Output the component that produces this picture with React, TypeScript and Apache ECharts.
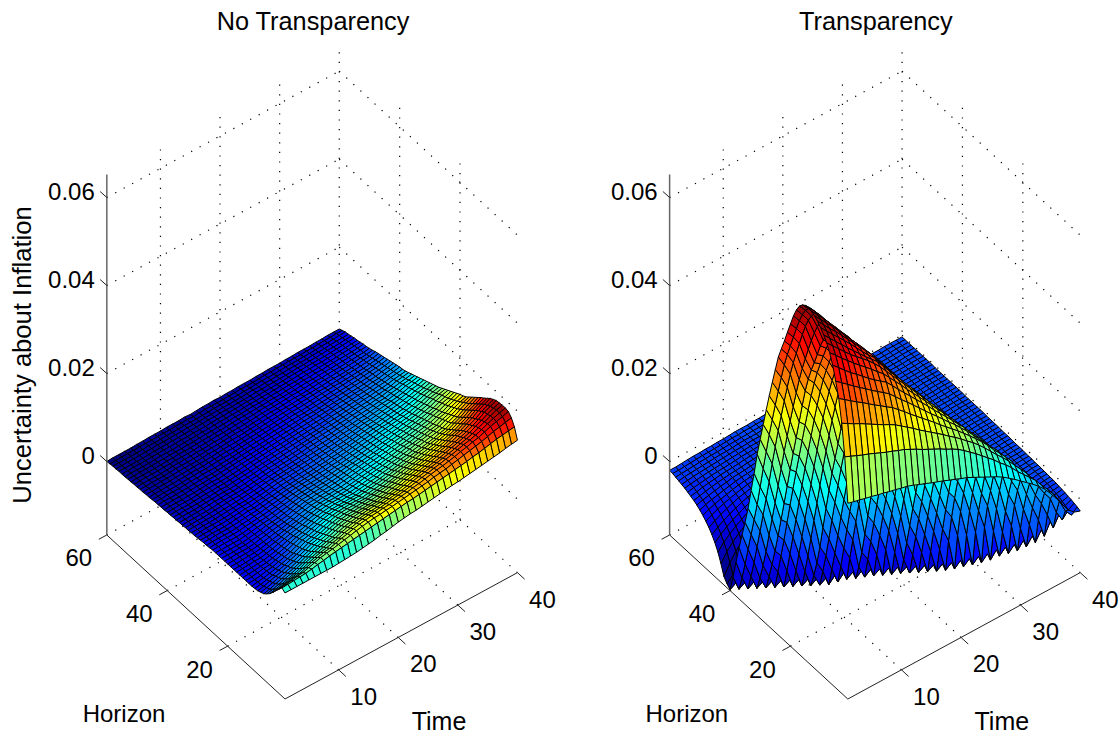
import React, { useEffect, useRef } from "react";
import * as echarts from "echarts";

const chartTitles = ["No Transparency", "Transparency"];
const timeTicks = [10, 20, 30, 40];
const horizonTicks = [20, 40, 60];
const valueTicks = [0, 0.02, 0.04, 0.06];
const valueTickLabels = ["0", "0.02", "0.04", "0.06"];
const valueAxisTitle = "Uncertainty about Inflation";
const horizonAxisTitle = "Horizon";
const timeAxisTitle = "Time";

// Surface heights in units of 0.0001; one row per Time (1..40), ten Horizon values per group (1..60).
const noTransparency = [
[74,79,70,60,50,41,34,28,25,22, 21,20,20,20,20,20,20,20,20,20, 20,20,20,20,20,19,18,18,17,16, 15,15,14,14,13,13,12,12,11,11, 10,10,9,9,8,7,7,6,6,5, 5,4,4,3,3,3,2,2,1,0],
[74,80,72,62,52,44,37,31,28,25, 23,22,21,21,21,21,21,20,20,20, 20,20,20,20,20,19,19,18,17,17, 16,15,15,14,14,13,13,12,12,11, 11,10,10,9,8,8,7,7,6,6, 5,5,4,4,3,3,2,2,1,1],
[74,81,74,65,56,48,41,36,32,29, 26,24,23,23,22,22,22,21,21,21, 21,20,20,20,20,20,19,19,18,17, 17,16,15,15,14,14,13,13,12,12, 11,11,10,10,9,8,8,7,7,6, 6,5,5,4,4,3,3,2,2,1],
[74,82,76,68,60,52,46,40,36,33, 29,27,26,25,24,23,23,22,22,21, 21,21,20,20,20,20,19,19,18,18, 17,16,16,15,15,14,13,13,12,12, 11,11,10,10,9,9,8,8,7,6, 6,5,5,4,4,3,3,2,2,1],
[74,83,78,70,63,56,50,45,40,36, 33,30,28,26,25,24,23,23,22,22, 21,21,20,20,20,20,19,19,18,18, 17,17,16,16,15,15,14,13,13,12, 12,11,11,10,9,9,8,8,7,6, 6,5,5,4,4,3,3,2,2,1],
[74,85,82,75,68,61,55,49,44,41, 37,34,32,30,28,27,26,25,24,24, 23,23,22,22,21,21,20,20,19,19, 18,18,17,17,16,16,15,14,14,13, 12,12,11,11,10,10,9,9,8,7, 7,6,6,5,5,4,4,3,3,2],
[74,88,86,80,73,67,60,54,49,45, 42,38,36,34,32,30,29,28,27,26, 26,25,24,24,23,23,22,21,21,20, 19,19,18,18,17,17,16,15,15,14, 13,13,12,12,11,10,10,9,9,8, 7,7,6,6,5,5,4,4,3,2],
[74,90,90,84,78,72,66,60,55,51, 47,43,40,38,36,34,33,31,30,29, 28,27,26,26,25,24,23,23,22,21, 21,20,19,19,18,17,17,16,15,15, 14,13,13,12,11,11,10,10,9,8, 8,7,7,6,6,5,5,4,3,3],
[74,93,93,88,82,76,71,65,60,56, 52,49,46,44,41,39,37,35,33,32, 31,30,29,28,27,26,25,24,24,23, 22,21,20,20,19,18,17,17,16,15, 15,14,13,13,12,11,11,10,9,9, 8,8,7,6,6,5,5,4,4,3],
[75,95,95,90,85,80,75,70,66,62, 58,55,52,49,46,43,41,39,36,34, 33,32,30,29,28,27,26,25,24,23, 22,21,21,20,19,18,17,16,16,15, 14,14,13,13,12,11,11,10,10,9, 8,8,7,7,6,6,5,5,4,3],
[76,97,98,94,89,84,79,74,70,66, 62,58,55,52,49,46,44,42,39,37, 35,34,32,31,30,29,28,27,26,25, 24,23,22,21,20,19,18,18,17,16, 15,15,14,13,13,12,11,11,10,10, 9,8,8,7,7,6,6,5,4,4],
[77,99,101,98,92,87,82,78,74,70, 66,62,59,56,53,50,47,45,42,40, 38,36,35,34,33,31,30,29,28,26, 25,24,23,22,21,20,20,19,18,17, 17,16,15,14,14,13,12,12,11,10, 10,9,8,8,7,7,6,5,5,4],
[78,101,104,101,97,92,87,83,79,75, 71,67,64,60,57,54,51,48,46,44, 42,40,38,36,35,33,32,31,29,28, 27,26,25,24,23,22,21,20,19,18, 18,17,16,15,15,14,13,12,12,11, 10,10,9,8,8,7,7,6,5,4],
[80,103,107,105,100,96,91,87,83,79, 75,71,68,64,61,58,55,52,49,47, 45,43,41,39,37,36,34,33,31,30, 29,28,27,25,24,23,22,21,20,20, 19,18,17,16,15,15,14,13,12,12, 11,10,10,9,8,8,7,6,6,5],
[82,105,110,108,104,99,94,90,86,82, 78,75,71,68,64,61,58,55,52,50, 48,46,44,42,40,38,36,35,33,32, 31,30,28,27,26,25,24,23,22,21, 20,19,18,17,16,15,15,14,13,12, 12,11,10,9,8,8,7,6,5,4],
[84,107,112,110,106,101,96,92,88,84, 80,77,73,70,66,63,60,57,54,51, 49,47,45,43,41,39,38,36,34,33, 32,31,29,28,27,26,25,24,23,22, 21,20,19,18,17,16,15,15,14,13, 12,11,11,10,9,9,8,7,6,5],
[87,109,114,112,108,103,98,94,89,85, 81,78,74,71,67,64,61,58,55,53, 50,48,46,44,42,41,39,37,35,34, 33,32,30,29,28,27,26,25,24,23, 22,21,20,19,18,17,16,15,15,14, 13,12,11,11,10,9,8,7,7,6],
[89,111,115,113,109,104,100,95,90,86, 82,78,75,71,67,64,61,58,56,53, 51,49,47,45,43,41,40,38,36,35, 34,33,31,30,29,28,27,26,25,24, 23,22,21,20,19,18,17,16,15,14, 14,13,12,11,10,10,9,8,7,6],
[92,113,117,115,110,105,101,96,91,87, 83,79,75,72,68,65,62,59,57,54, 52,50,48,46,44,42,41,39,37,36, 35,34,32,31,30,29,28,27,26,25, 24,23,22,21,20,19,18,17,16,15, 15,14,13,12,11,10,9,8,7,7],
[95,115,118,116,112,107,102,97,92,88, 84,79,75,72,68,65,62,60,57,55, 53,51,49,47,45,43,42,40,38,37, 36,35,33,32,31,30,29,28,27,26, 25,24,23,22,21,20,19,18,17,16, 15,14,13,12,11,10,9,8,7,6],
[97,117,120,118,114,109,104,99,94,90, 86,81,77,74,70,67,64,62,59,57, 55,53,51,49,47,45,43,42,40,38, 37,36,35,33,32,31,30,29,28,27, 26,25,24,23,22,21,20,19,18,17, 16,15,14,13,12,11,10,9,8,7],
[99,119,122,120,116,111,106,101,96,92, 88,83,79,76,72,69,66,64,61,59, 57,55,53,51,49,47,45,43,41,40, 39,37,36,35,34,33,31,30,29,28, 27,26,25,24,23,22,21,20,19,18, 17,16,15,14,13,11,10,9,8,7],
[100,120,124,122,118,113,108,103,99,95, 90,85,81,78,74,71,68,66,63,61, 59,57,55,53,50,48,46,45,43,41, 40,38,37,36,35,34,32,31,30,29, 28,27,26,25,24,23,22,21,20,19, 18,16,15,14,13,12,11,10,9,8],
[102,122,126,125,121,116,111,106,101,97, 93,88,84,80,76,73,70,68,65,63, 61,59,57,54,52,50,48,46,44,43, 41,40,38,37,36,35,34,32,31,30, 29,28,27,26,25,24,23,22,20,19, 18,17,16,15,14,13,12,10,9,8],
[104,124,128,127,124,120,115,110,105,100, 96,91,87,83,79,76,73,70,67,65, 63,61,58,56,54,52,50,48,46,45, 43,41,40,38,37,36,35,33,32,31, 30,29,28,27,26,25,24,22,21,20, 19,18,17,15,14,13,12,11,9,8],
[106,126,130,130,127,123,118,113,108,103, 98,94,90,86,81,78,75,72,69,67, 65,63,60,58,56,54,52,50,48,46, 44,43,41,40,38,37,36,34,33,32, 31,30,29,27,26,25,24,23,22,21, 20,18,17,16,15,14,13,12,10,9],
[108,128,133,133,130,126,121,116,111,106, 101,97,92,88,84,81,78,75,72,69, 67,65,62,60,58,56,54,52,50,48, 46,44,43,41,40,38,37,36,34,33, 32,31,29,28,27,26,25,24,23,22, 20,19,18,17,15,14,13,12,11,9],
[110,130,135,136,133,129,124,119,114,109, 104,99,95,91,87,84,80,77,74,72, 69,67,64,62,60,58,56,54,52,50, 48,46,44,43,41,40,38,37,36,34, 33,32,30,29,28,27,26,25,23,22, 21,20,19,17,16,15,14,12,11,10],
[112,132,137,138,136,132,127,122,117,112, 107,102,98,94,90,86,83,80,77,74, 72,69,67,64,62,60,58,56,54,52, 50,48,46,44,43,41,40,38,37,36, 34,33,31,30,29,28,27,25,24,23, 22,21,19,18,17,15,14,13,12,10],
[113,134,140,141,139,135,130,126,120,115, 110,105,101,97,92,89,86,83,80,77, 74,72,69,66,64,62,60,58,56,54, 52,50,48,46,45,43,41,40,38,37, 36,34,33,31,30,29,28,26,25,24, 23,22,20,19,18,16,15,14,12,10],
[115,136,143,144,142,138,134,129,124,119, 114,109,104,100,95,92,89,85,82,79, 77,74,71,69,66,64,62,60,57,55, 53,51,49,47,46,44,43,41,40,38, 37,35,34,32,31,30,28,27,26,25, 23,22,21,20,18,17,15,14,13,11],
[117,138,146,148,146,142,138,133,128,122, 117,112,107,103,98,95,92,88,85,82, 79,76,74,71,68,66,64,61,59,57, 55,53,51,49,47,46,44,42,41,39, 38,36,35,33,32,31,29,28,27,25, 24,23,21,20,19,17,16,14,13,11],
[119,141,149,151,150,146,142,137,132,127, 121,116,111,106,101,98,95,91,88,85, 82,79,76,73,71,68,66,63,61,59, 57,55,53,51,49,47,45,44,42,41, 39,37,36,34,33,31,30,29,27,26, 25,23,22,21,19,18,16,15,13,12],
[121,143,152,155,153,150,146,141,137,132, 126,120,115,110,105,101,98,94,91,88, 85,82,79,76,73,70,68,65,63,61, 59,57,55,53,51,49,47,45,43,42, 40,38,37,35,34,32,31,29,28,27, 25,24,22,21,20,18,17,15,14,12],
[123,146,155,158,157,154,150,146,141,136, 130,124,119,113,108,104,101,97,94,91, 88,85,82,79,76,73,70,68,65,63, 61,59,57,54,52,50,48,47,45,43, 41,39,38,36,35,33,32,30,29,27, 26,25,23,22,20,19,17,16,14,12],
[125,149,159,163,162,160,157,152,148,143, 137,131,126,120,114,110,107,103,100,96, 93,90,86,83,80,77,74,71,69,66, 64,62,59,57,55,53,50,48,47,45, 43,41,39,38,36,34,33,31,30,28, 27,26,24,23,21,20,18,17,15,13],
[127,152,163,168,168,166,163,159,154,150, 144,138,132,126,120,116,112,108,104,100, 97,94,90,87,84,81,78,75,72,70, 67,65,62,60,57,55,52,50,48,46, 44,42,41,39,37,35,34,32,31,29, 28,26,25,23,22,20,19,17,16,13],
[130,154,166,172,173,172,170,168,163,159, 153,147,141,135,129,124,119,115,111,107, 103,100,96,93,90,87,83,80,77,74, 71,69,66,64,61,58,56,53,51,49, 47,45,43,41,39,37,35,34,32,30, 29,27,26,24,23,21,20,18,16,14],
[132,156,169,176,178,178,176,174,170,166, 160,154,148,142,136,131,126,121,116,112, 108,104,101,98,94,90,87,84,80,77, 74,71,69,66,63,60,58,55,53,51, 49,47,45,43,41,39,37,35,33,31, 30,28,27,25,24,22,20,19,17,14],
[134,158,172,180,182,182,181,180,176,172, 166,160,155,149,143,137,131,125,121,118, 114,110,106,102,98,94,90,87,84,81, 78,75,72,69,66,63,60,57,55,54, 52,50,48,46,44,42,40,38,35,33, 31,30,28,26,25,23,21,20,17,14],
];

const transparency = [
[278,377,447,497,530,560,582,598,610,620, 628,634,638,640,639,634,625,610,590,565, 540,514,490,465,430,395,358,320,280,240, 200,150,105,58,20,-15,-50,-90,-130,-165, -158,-148,-125,-105,-90,-78,-68,-60,-53,-47, -42,-38,-35,-32,-29,-27,-25,-23,-21,-20],
[274,371,439,487,519,547,569,584,595,605, 613,619,623,625,624,618,608,592,572,548, 522,496,470,440,405,368,330,290,250,205, 160,112,66,25,-15,-55,-95,-132,-165,-157, -145,-124,-105,-90,-78,-68,-60,-53,-47,-42, -38,-35,-32,-29,-27,-25,-23,-22,-21,-20],
[271,365,431,477,508,534,555,570,580,590, 597,603,607,608,606,600,588,572,552,527, 500,472,444,412,376,338,298,258,215,170, 123,78,35,-8,-50,-92,-130,-165,-157,-145, -124,-105,-90,-78,-68,-60,-53,-47,-42,-38, -35,-32,-29,-27,-25,-23,-22,-21,-20,-19],
[267,359,424,467,497,521,542,556,566,576, 583,588,590,589,584,573,556,536,512,486, 458,430,398,362,324,285,245,203,158,113, 68,25,-18,-62,-100,-135,-165,-157,-145,-124, -105,-90,-78,-68,-60,-53,-47,-42,-38,-35, -32,-29,-27,-25,-23,-22,-21,-20,-19,-18],
[264,354,416,458,486,510,529,542,551,561, 567,571,573,569,558,540,518,499,473,448, 425,398,365,325,282,240,198,155,110,65, 22,-21,-62,-99,-133,-165,-157,-145,-124,-105, -90,-78,-68,-60,-53,-47,-42,-38,-35,-32, -29,-27,-25,-23,-22,-21,-20,-19,-18,-17],
[260,348,408,448,476,498,517,530,537,546, 551,554,555,551,541,526,507,486,462,438, 412,382,347,308,268,226,184,142,98,54, 8,-38,-80,-123,-165,-157,-145,-124,-104,-88, -76,-66,-58,-51,-46,-41,-37,-34,-31,-29, -27,-25,-23,-22,-21,-20,-19,-18,-17,-17],
[257,342,400,438,465,486,505,518,523,530, 535,537,538,534,522,506,486,465,441,416, 388,355,318,278,236,193,150,105,60,14, -32,-76,-122,-165,-157,-145,-124,-104,-88,-75, -65,-57,-50,-45,-41,-37,-34,-31,-28,-26, -24,-23,-22,-21,-20,-19,-18,-17,-17,-16],
[253,336,392,429,455,475,493,506,509,514, 519,521,519,512,498,480,459,437,413,386, 355,320,282,240,196,152,106,60,14,-32, -78,-122,-165,-157,-145,-124,-104,-88,-75,-64, -56,-50,-45,-41,-37,-34,-31,-28,-26,-24, -23,-22,-21,-20,-19,-18,-17,-17,-16,-16],
[250,331,385,419,445,465,480,492,496,499, 503,504,499,487,470,450,428,405,380,348, 312,275,235,193,148,103,56,10,-37,-83, -125,-165,-157,-145,-124,-104,-88,-75,-64,-56, -50,-45,-41,-37,-34,-31,-28,-26,-24,-23, -22,-21,-20,-19,-18,-17,-17,-16,-16,-15],
[246,325,377,410,435,455,468,477,483,486, 487,486,477,461,438,412,387,363,338,300, 256,215,175,135,90,42,-8,-58,-100,-135, -165,-157,-145,-124,-104,-88,-75,-64,-56,-50, -45,-40,-36,-33,-30,-27,-25,-23,-22,-21, -20,-19,-18,-17,-17,-16,-16,-15,-15,-15],
[243,320,367,398,421,440,452,460,465,466, 468,462,450,433,411,387,362,336,305,268, 226,185,144,100,55,8,-40,-85,-127,-165, -157,-145,-124,-104,-88,-75,-64,-55,-49,-44, -39,-35,-32,-29,-27,-25,-23,-22,-21,-20, -19,-18,-17,-17,-16,-16,-15,-15,-14,-14],
[238,313,357,386,407,424,436,443,447,447, 449,441,427,407,384,360,334,304,268,228, 188,147,105,60,14,-34,-80,-124,-165,-157, -145,-124,-104,-88,-75,-64,-55,-47,-42,-38, -34,-31,-28,-26,-24,-22,-21,-20,-19,-18, -17,-17,-16,-16,-15,-15,-14,-14,-14,-13],
[232,306,347,373,394,409,420,426,429,428, 430,421,405,385,362,337,310,276,238,198, 158,116,72,26,-22,-70,-118,-160,-152,-140, -120,-102,-88,-75,-64,-55,-47,-42,-38,-34, -31,-28,-26,-24,-22,-21,-20,-19,-18,-17, -17,-16,-16,-15,-15,-14,-14,-14,-13,-13],
[227,298,336,361,380,394,403,409,412,410, 411,399,382,361,338,312,283,248,208,168, 128,86,42,-4,-52,-100,-155,-147,-135,-117, -100,-88,-77,-67,-59,-52,-46,-41,-37,-34, -31,-28,-26,-24,-22,-21,-20,-19,-18,-17, -16,-16,-15,-15,-14,-14,-14,-13,-13,-13],
[221,291,326,349,366,379,387,392,394,392, 391,374,353,330,304,275,240,197,152,108, 62,14,-34,-82,-121,-154,-146,-134,-116,-99, -86,-74,-64,-56,-49,-43,-38,-34,-31,-28, -26,-24,-22,-21,-20,-19,-18,-17,-16,-16, -15,-15,-14,-14,-14,-13,-13,-13,-12,-12],
[216,284,316,337,352,364,371,375,377,375, 372,356,335,311,284,252,214,172,128,84, 38,-10,-58,-105,-152,-144,-132,-114,-97,-84, -72,-62,-54,-47,-42,-38,-34,-31,-28,-26, -24,-22,-21,-20,-19,-18,-17,-16,-16,-15, -15,-14,-14,-13,-13,-13,-12,-12,-12,-12],
[211,277,306,325,338,349,355,358,359,355, 348,331,310,285,257,222,182,140,95,50, 4,-45,-95,-150,-142,-130,-112,-95,-82,-70, -60,-52,-45,-40,-36,-33,-30,-28,-26,-24, -22,-21,-20,-19,-18,-17,-16,-16,-15,-15, -14,-14,-13,-13,-13,-12,-12,-12,-11,-11],
[205,269,296,312,325,333,338,341,341,334, 320,302,280,254,222,184,143,100,55,10, -35,-85,-150,-142,-130,-112,-95,-82,-70,-60, -52,-45,-40,-36,-33,-30,-28,-26,-24,-22, -21,-20,-19,-18,-17,-16,-16,-15,-15,-14, -14,-13,-13,-13,-12,-12,-12,-11,-11,-11],
[200,262,285,300,311,318,322,324,321,308, 292,272,247,215,176,135,92,48,3,-42, -92,-149,-141,-129,-111,-94,-81,-70,-60,-52, -45,-39,-36,-33,-30,-28,-26,-24,-22,-21, -20,-19,-18,-17,-16,-16,-15,-15,-14,-14, -13,-13,-13,-12,-12,-12,-11,-11,-11,-11],
[194,254,275,288,297,303,306,306,300,285, 262,232,195,155,112,68,25,-20,-65,-110, -148,-140,-128,-110,-93,-80,-68,-58,-50,-44, -40,-36,-33,-30,-28,-26,-24,-22,-21,-20, -19,-18,-17,-16,-16,-15,-15,-14,-14,-13, -13,-13,-12,-12,-12,-11,-11,-11,-10,-10],
[189,244,264,276,284,288,290,288,279,262, 238,206,168,126,83,40,-5,-52,-100,-148, -140,-128,-110,-93,-79,-68,-58,-50,-43,-39, -35,-32,-30,-28,-26,-24,-22,-21,-20,-19, -18,-17,-16,-16,-15,-15,-14,-14,-13,-13, -13,-12,-12,-12,-11,-11,-11,-10,-10,-10],
[182,233,252,263,269,272,273,269,257,236, 208,172,132,90,46,0,-48,-96,-148,-140, -128,-110,-93,-78,-66,-56,-48,-41,-37,-34, -31,-29,-27,-25,-23,-22,-21,-20,-19,-18, -17,-16,-16,-15,-15,-14,-14,-13,-13,-13, -12,-12,-12,-11,-11,-11,-10,-10,-10,-10],
[175,222,241,250,255,257,256,248,232,208, 176,138,96,52,6,-42,-94,-147,-139,-127, -109,-92,-76,-64,-54,-46,-40,-36,-33,-30, -28,-26,-24,-23,-22,-21,-20,-19,-18,-17, -16,-16,-15,-15,-14,-14,-13,-13,-13,-12, -12,-12,-11,-11,-11,-10,-10,-10,-10,-9],
[168,210,228,236,239,240,236,226,208,177, 142,101,58,12,-38,-90,-147,-139,-127,-109, -92,-76,-62,-52,-44,-40,-36,-33,-30,-28, -26,-24,-23,-22,-21,-20,-19,-18,-17,-16, -16,-15,-15,-14,-14,-13,-13,-13,-12,-12, -12,-11,-11,-11,-10,-10,-10,-10,-9,-9],
[161,198,214,222,222,224,222,205,188,160, 122,82,38,-12,-72,-146,-138,-126,-108,-91, -75,-60,-50,-42,-36,-32,-29,-27,-25,-23, -21,-20,-19,-18,-17,-16,-15,-15,-14,-14, -13,-13,-12,-12,-12,-11,-11,-11,-10,-10, -10,-9,-9,-9,-9,-8,-8,-8,-8,-8],
[154,186,199,206,206,207,204,182,160,128, 90,48,0,-60,-144,-136,-124,-106,-89,-73, -58,-47,-39,-33,-30,-28,-26,-24,-22,-21, -20,-19,-18,-17,-16,-15,-15,-14,-14,-13, -13,-12,-12,-12,-11,-11,-11,-10,-10,-10, -9,-9,-9,-9,-8,-8,-8,-8,-8,-7],
[146,172,184,189,190,188,178,158,128,90, 48,0,-60,-140,-132,-120,-102,-85,-70,-55, -44,-36,-31,-28,-26,-24,-22,-21,-20,-19, -18,-17,-16,-15,-15,-14,-14,-13,-13,-12, -12,-12,-11,-11,-11,-10,-10,-10,-9,-9, -9,-9,-8,-8,-8,-8,-8,-7,-7,-7],
[136,160,170,174,175,168,150,122,90,45, 0,-55,-137,-129,-117,-99,-82,-66,-52,-40, -32,-29,-26,-24,-22,-21,-20,-19,-18,-17, -16,-15,-15,-14,-14,-13,-13,-12,-12,-11, -11,-11,-10,-10,-10,-9,-9,-9,-9,-8, -8,-8,-8,-8,-7,-7,-7,-7,-7,-7],
[126,146,155,158,156,144,122,92,50,10, -45,-133,-125,-113,-95,-78,-62,-48,-37,-30, -27,-25,-23,-21,-20,-19,-18,-17,-16,-15, -15,-14,-14,-13,-13,-12,-12,-11,-11,-11, -10,-10,-10,-9,-9,-9,-9,-8,-8,-8, -8,-8,-7,-7,-7,-7,-7,-7,-6,-6],
[115,130,138,141,136,118,90,50,2,-55, -128,-120,-108,-90,-73,-58,-46,-36,-29,-26, -24,-22,-20,-19,-18,-17,-16,-15,-14,-14, -13,-13,-12,-12,-11,-11,-10,-10,-10,-9, -9,-9,-9,-8,-8,-8,-8,-7,-7,-7, -7,-7,-7,-6,-6,-6,-6,-6,-6,-6],
[104,116,122,118,102,76,40,-5,-58,-120, -112,-100,-82,-65,-50,-39,-31,-26,-24,-22, -20,-19,-18,-17,-16,-15,-14,-14,-13,-13, -12,-12,-11,-11,-10,-10,-10,-9,-9,-9, -9,-8,-8,-8,-8,-7,-7,-7,-7,-7, -6,-6,-6,-6,-6,-6,-6,-6,-5,-5],
[93,102,105,98,78,48,8,-45,-115,-107, -95,-77,-60,-45,-35,-28,-24,-22,-20,-19, -18,-17,-16,-15,-14,-14,-13,-13,-12,-12, -11,-11,-10,-10,-10,-9,-9,-9,-9,-8, -8,-8,-8,-7,-7,-7,-7,-7,-6,-6, -6,-6,-6,-6,-6,-6,-5,-5,-5,-5],
[81,88,86,68,38,-2,-52,-110,-102,-90, -72,-55,-42,-32,-26,-22,-20,-18,-17,-16, -15,-15,-14,-13,-13,-12,-12,-11,-11,-11, -10,-10,-10,-9,-9,-9,-8,-8,-8,-8, -8,-7,-7,-7,-7,-7,-6,-6,-6,-6, -6,-6,-6,-5,-5,-5,-5,-5,-5,-5],
[67,70,60,35,0,-45,-102,-94,-82,-64, -48,-36,-28,-23,-20,-18,-17,-16,-15,-14, -14,-13,-13,-12,-12,-11,-11,-10,-10,-10, -9,-9,-9,-8,-8,-8,-8,-8,-7,-7, -7,-7,-7,-6,-6,-6,-6,-6,-6,-6, -5,-5,-5,-5,-5,-5,-5,-5,-5,-5],
[50,53,38,8,-35,-93,-85,-73,-55,-40, -30,-24,-20,-18,-17,-16,-15,-14,-13,-13, -12,-12,-11,-11,-11,-10,-10,-10,-9,-9, -9,-8,-8,-8,-8,-7,-7,-7,-7,-7, -7,-6,-6,-6,-6,-6,-6,-5,-5,-5, -5,-5,-5,-5,-5,-5,-5,-5,-5,-5],
[31,35,18,-25,-80,-72,-60,-44,-32,-25, -21,-19,-17,-16,-15,-14,-13,-13,-12,-12, -11,-11,-10,-10,-10,-9,-9,-9,-9,-8, -8,-8,-8,-7,-7,-7,-7,-7,-7,-6, -6,-6,-6,-6,-6,-6,-6,-5,-5,-5, -5,-5,-5,-5,-5,-5,-5,-5,-5,-5],
[10,12,-20,-62,-54,-44,-34,-27,-23,-20, -18,-17,-16,-15,-14,-13,-13,-12,-12,-11, -11,-10,-10,-10,-9,-9,-9,-8,-8,-8, -8,-7,-7,-7,-7,-7,-7,-6,-6,-6, -6,-6,-6,-6,-5,-5,-5,-5,-5,-5, -5,-5,-5,-5,-5,-5,-5,-5,-4,-4],
[-10,-18,-45,-38,-30,-26,-23,-20,-18,-17, -16,-15,-14,-13,-13,-12,-12,-11,-11,-10, -10,-10,-9,-9,-9,-8,-8,-8,-8,-7, -7,-7,-7,-7,-6,-6,-6,-6,-6,-6, -6,-6,-5,-5,-5,-5,-5,-5,-5,-5, -5,-5,-4,-4,-4,-4,-4,-4,-4,-4],
[-22,-35,-30,-26,-23,-20,-18,-17,-15,-14, -14,-13,-12,-12,-11,-11,-11,-10,-10,-10, -9,-9,-9,-8,-8,-8,-8,-7,-7,-7, -7,-7,-6,-6,-6,-6,-6,-6,-6,-5, -5,-5,-5,-5,-5,-5,-5,-5,-5,-4, -4,-4,-4,-4,-4,-4,-4,-4,-4,-4],
[-27,-24,-22,-20,-19,-17,-16,-15,-14,-13, -13,-12,-12,-11,-11,-11,-10,-10,-10,-9, -9,-9,-9,-8,-8,-8,-8,-7,-7,-7, -7,-7,-6,-6,-6,-6,-6,-6,-6,-5, -5,-5,-5,-5,-5,-5,-5,-5,-5,-4, -4,-4,-4,-4,-4,-4,-4,-4,-4,-4],
];

// Oblique projection of the 3-D box, in page pixels.
const FRONT_Y = 699;
const T_DX = 5.96, T_DY = 3.24, H_DX = 3.02, H_DY = 2.78, Z_PX = 0.44;
const Z_FLOOR = -167, Z_TOP = 652;
const T_MIN = 1, T_MAX = 40, H_MIN = 1, H_MAX = 60;
const PANEL_X = [285, 847.8];
const FAMILY = "'Liberation Sans', Arial, sans-serif";

function project(px: number, t: number, h: number, z: number): [number, number] {
  return [
    px + (t - T_MIN) * T_DX - (h - H_MIN) * H_DX,
    FRONT_Y - (t - T_MIN) * T_DY - (h - H_MIN) * H_DY - (z - Z_FLOOR) * Z_PX,
  ];
}

function jet(v: number): string {
  const q = (Math.min(63, Math.floor(Math.max(0, v) * 64)) + 0.5) / 64;
  const c = (k: number) => Math.round(255 * Math.max(0, Math.min(1, 1.5 - Math.abs(4 * q - k))));
  return `rgb(${c(3)},${c(2)},${c(1)})`;
}

function surfaceSeries(px: number, rows: number[][], z: number) {
  const flat = rows.flat();
  const lo = Math.min(...flat), hi = Math.max(...flat);
  const cells: [number, number][] = [];
  for (let h = H_MAX - 1; h >= H_MIN; h--) for (let t = T_MAX - 1; t >= T_MIN; t--) cells.push([t, h]);
  const at = (t: number, h: number) => {
    const col = rows[t - 1];
    return col[Math.min(h - 1, col.length - 1)];
  };
  return {
    type: "custom", coordinateSystem: "cartesian2d", silent: true, z, clip: false, progressive: 0,
    data: cells,
    renderItem: (_p: any, api: any) => {
      const t = api.value(0), h = api.value(1);
      const pts = [[t, h], [t + 1, h], [t + 1, h + 1], [t, h + 1]].map(([a, b]) =>
        api.coord(project(px, a, b, at(a, b))));
      return {
        type: "polygon", shape: { points: pts },
        style: { fill: jet((at(t, h) - lo) / (hi - lo)), stroke: "#000", lineWidth: 1, lineJoin: "round" },
      };
    },
  };
}

type Seg = { a: number[]; b: number[]; kind: number };

function lineSeries(px: number, segs: Seg[], z: number) {
  return {
    type: "custom", coordinateSystem: "cartesian2d", silent: true, z, clip: false, progressive: 0,
    data: segs.map((_, i) => [i, 0]),
    renderItem: (_p: any, api: any) => {
      const s = segs[api.value(0)];
      const p1 = api.coord(project(px, s.a[0], s.a[1], s.a[2]));
      const p2 = api.coord(project(px, s.b[0], s.b[1], s.b[2]));
      const style = s.kind === 0
        ? { stroke: "#000", lineWidth: 1.2, lineDash: [1.2, 8.4], fill: null }
        : s.kind === 2 ? { stroke: "#666", lineWidth: 1.5, fill: null } : { stroke: "#222", lineWidth: 1, fill: null };
      return { type: "line", shape: { x1: p1[0], y1: p1[1], x2: p2[0], y2: p2[1] }, style };
    },
  };
}

function gridSegs(): Seg[] {
  const out: Seg[] = [];
  for (const v of valueTicks) {
    const z = v * 1e4;
    out.push({ a: [T_MIN, H_MAX, z], b: [T_MAX, H_MAX, z], kind: 0 });
    out.push({ a: [T_MAX, H_MAX, z], b: [T_MAX, H_MIN, z], kind: 0 });
  }
  for (const t of timeTicks) {
    out.push({ a: [t, H_MIN, Z_FLOOR], b: [t, H_MAX, Z_FLOOR], kind: 0 });
    out.push({ a: [t, H_MAX, Z_FLOOR], b: [t, H_MAX, Z_TOP], kind: 0 });
  }
  for (const h of horizonTicks) {
    out.push({ a: [T_MIN, h, Z_FLOOR], b: [T_MAX, h, Z_FLOOR], kind: 0 });
    if (h < H_MAX) out.push({ a: [T_MAX, h, Z_FLOOR], b: [T_MAX, h, Z_TOP], kind: 0 });
  }
  return out;
}

function axisSegs(): Seg[] {
  return [
    { a: [T_MIN, H_MIN, Z_FLOOR], b: [T_MAX, H_MIN, Z_FLOOR], kind: 1 },
    { a: [T_MIN, H_MIN, Z_FLOOR], b: [T_MIN, H_MAX, Z_FLOOR], kind: 1 },
    { a: [T_MIN, H_MAX, Z_FLOOR], b: [T_MIN, H_MAX, Z_TOP], kind: 2 },
  ];
}

function tickSeries(px: number, z: number) {
  const ticks: { at: number[]; d: number[] }[] = [];
  for (const v of valueTicks) ticks.push({ at: [T_MIN, H_MAX, v * 1e4], d: [-6.7, -6] });
  for (const t of timeTicks) ticks.push({ at: [t, H_MIN, Z_FLOOR], d: [7.2, 6.6] });
  for (const h of horizonTicks) ticks.push({ at: [T_MIN, h, Z_FLOOR], d: [-8, 4.3] });
  return {
    type: "custom", coordinateSystem: "cartesian2d", silent: true, z, clip: false, progressive: 0,
    data: ticks.map((_, i) => [i, 0]),
    renderItem: (_p: any, api: any) => {
      const k = ticks[api.value(0)];
      const p = project(px, k.at[0], k.at[1], k.at[2]);
      const p1 = api.coord(p);
      const p2 = api.coord([p[0] + k.d[0], p[1] + k.d[1]]);
      return { type: "line", shape: { x1: p1[0], y1: p1[1], x2: p2[0], y2: p2[1] }, style: { stroke: "#222", lineWidth: 1, fill: null } };
    },
  };
}

function label(text: string, x: number, y: number, size = 24, align = "center", rotation = 0) {
  return {
    type: "text", x, y, rotation, z: 50, silent: true,
    style: { text, font: `${size}px ${FAMILY}`, fill: "#000", textAlign: align, textVerticalAlign: "middle" },
  };
}

function panelLabels(px: number, title: string) {
  const out: any[] = [label(title, px + 28, 21, 25.3)];
  valueTicks.forEach((v, i) => {
    const p = project(px, T_MIN, H_MAX, v * 1e4);
    out.push(label(valueTickLabels[i], p[0] - 12, p[1] - 6, 24, "right"));
  });
  for (const h of horizonTicks) {
    const p = project(px, T_MIN, h, Z_FLOOR);
    out.push(label(String(h), p[0] - 28, p[1] + 23));
  }
  for (const t of timeTicks) {
    const p = project(px, t, H_MIN, Z_FLOOR);
    out.push(label(String(t), p[0] + 25, p[1] + 26.5));
  }
  out.push(label(horizonAxisTitle, px - 161, 713));
  out.push(label(timeAxisTitle, px + 154, 720.5, 25));
  return out;
}

export default function App() {
  const ref = useRef<HTMLDivElement>(null);
  useEffect(() => {
    const chart = echarts.init(ref.current!, undefined, { renderer: "svg" });
    const series: any[] = [];
    [noTransparency, transparency].forEach((rows, i) => {
      const px = PANEL_X[i];
      series.push(lineSeries(px, gridSegs(), 1));
      series.push(surfaceSeries(px, rows, 2));
      series.push(lineSeries(px, axisSegs(), 3));
      series.push(tickSeries(px, 3));
    });
    chart.setOption({
      animation: false,
      backgroundColor: "#fff",
      grid: { left: 0, right: 0, top: 0, bottom: 0 },
      xAxis: { type: "value", min: 0, max: 1119, show: false },
      yAxis: { type: "value", min: 0, max: 734, inverse: true, show: false },
      graphic: {
        elements: [
          ...panelLabels(PANEL_X[0], chartTitles[0]),
          ...panelLabels(PANEL_X[1], chartTitles[1]),
          label(valueAxisTitle, 22, 355, 25.6, "center", Math.PI / 2),
        ],
      },
      series,
    });
    return () => chart.dispose();
  }, []);
  return <div ref={ref} style={{ position: "fixed", left: 0, top: 0, width: 1119, height: 734 }} />;
}
